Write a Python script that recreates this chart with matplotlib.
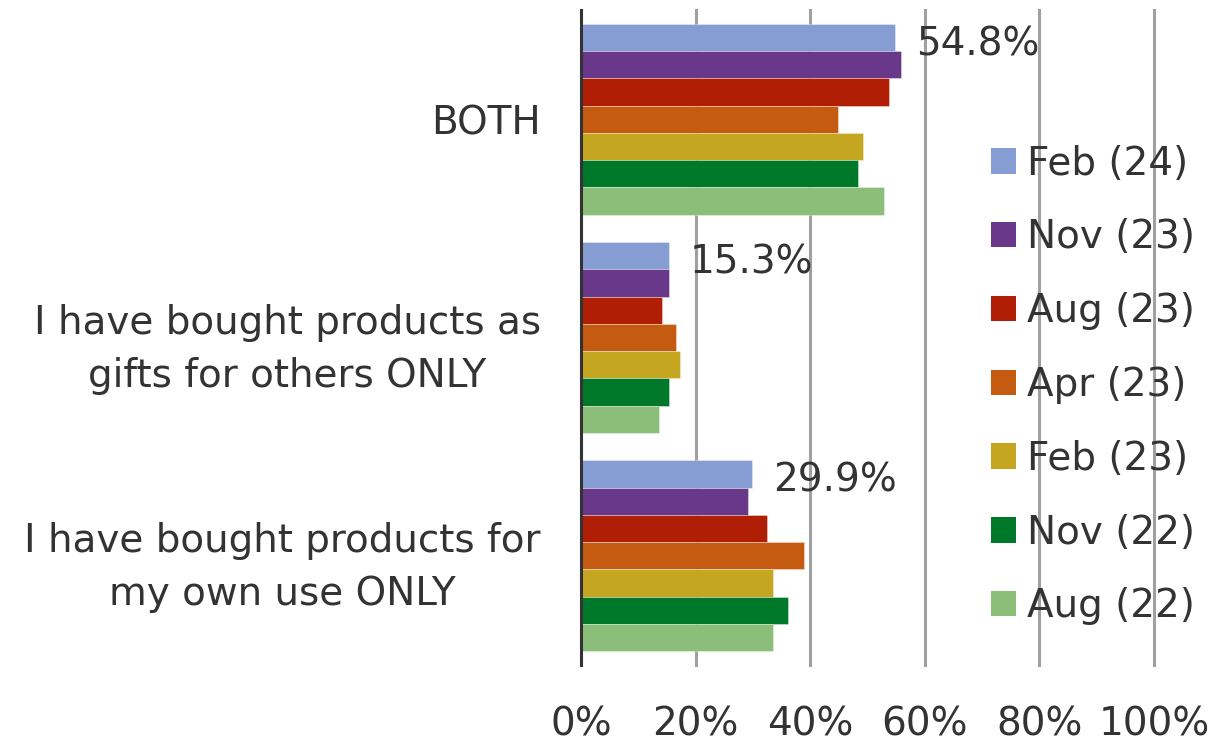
import matplotlib
matplotlib.use("Agg")
import matplotlib.pyplot as plt
import numpy as np

categories = ["BOTH",
              "I have bought products as\ngifts for others ONLY",
              "I have bought products for\nmy own use ONLY"]
series_names = ["Feb (24)", "Nov (23)", "Aug (23)", "Apr (23)", "Feb (23)", "Nov (22)", "Aug (22)"]
feb24 = [54.8, 15.3, 29.9]
nov23 = [55.9, 15.3, 29.1]
aug23 = [53.8, 14.2, 32.4]
apr23 = [44.9, 16.6, 38.9]
feb23 = [49.3, 17.2, 33.5]
nov22 = [48.4, 15.3, 36.2]
aug22 = [52.9, 13.6, 33.5]
series_values = [feb24, nov23, aug23, apr23, feb23, nov22, aug22]
colors = ["#859DD3", "#69388A", "#B01F05", "#C55A11", "#C4A621", "#00782A", "#8BBE78"]
xticks = [0, 20, 40, 60, 80, 100]
xtick_labels = ["0%", "20%", "40%", "60%", "80%", "100%"]

TEXT = "#333333"
plt.rcParams['font.family'] = ['DejaVu Sans']
FS = 28

fig = plt.figure(figsize=(12.22, 7.49), dpi=100)
ax = fig.add_axes([581/1222, 1 - 665/749, (1154 - 581)/1222, (665 - 10)/749])

n = len(series_values)
bh = 0.875 / n
y = np.arange(len(categories))
for i, (name, vals, c) in enumerate(zip(series_names, series_values, colors)):
    pos = y - 0.4375 + bh * (i + 0.5)
    ax.barh(pos, vals, height=bh, color=c, label=name, edgecolor=(1, 1, 1, 0.5),
            linewidth=0.5, zorder=3)
    if i == 0:
        for p, v in zip(pos, vals):
            ax.annotate(f"{v:.1f}%", xy=(v, p), xytext=(15, -5),
                        textcoords="offset points", ha="left", va="center",
                        fontsize=FS, color=TEXT, zorder=4)

ax.set_xlim(0, 100)
ax.set_ylim(2.5, -0.5)
ax.set_xticks(xticks)
ax.set_xticklabels(xtick_labels)
ax.set_yticks(y)
ax.set_yticklabels(categories, multialignment="center", linespacing=1.5)
for sp in ["top", "right", "bottom"]:
    ax.spines[sp].set_visible(False)
ax.spines["left"].set_color("#333333")
ax.spines["left"].set_linewidth(2.2)
ax.spines["left"].set_zorder(5)
ax.xaxis.grid(True, color="#A0A0A0", linewidth=2.2, zorder=0)
for gl in ax.get_xgridlines():
    gl.set_clip_on(False)
ax.set_axisbelow(True)
ax.tick_params(axis="x", length=0, pad=29, labelsize=FS, labelcolor=TEXT)
ax.tick_params(axis="y", length=0, pad=29, labelsize=FS, labelcolor=TEXT)

leg = fig.legend(loc="center left", bbox_to_anchor=(991/1222, 1 - 385/749),
                 bbox_transform=fig.transFigure, frameon=False, fontsize=FS,
                 handlelength=0.63, handleheight=0.63, handletextpad=0.3,
                 labelspacing=0.92, borderpad=0, borderaxespad=0)
for t in leg.get_texts():
    t.set_color(TEXT)
for h in leg.legend_handles:
    h.set_edgecolor("none")

fig.savefig("out.png", dpi=100)
